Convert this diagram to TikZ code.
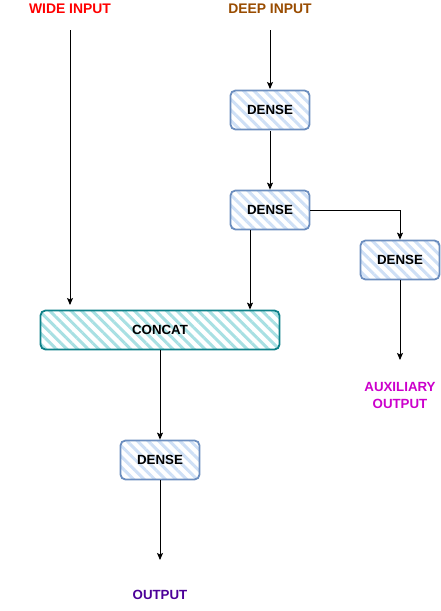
\documentclass[tikz,border=0pt]{standalone}
\usepackage{fontspec}
\setmainfont{Liberation Sans}
\usetikzlibrary{patterns.meta,arrows.meta}
\definecolor{blueb}{HTML}{6C8EBF}
\definecolor{bluef}{HTML}{CFE0F6}
\definecolor{tealb}{HTML}{0E8088}
\definecolor{tealf}{HTML}{A8E0E3}
\definecolor{deepc}{HTML}{994C00}
\definecolor{auxc}{HTML}{CC00CC}
\definecolor{outc}{HTML}{4C0099}
\definecolor{widec}{HTML}{FF0000}
\tikzset{
  box/.style={rectangle, rounded corners=5pt, draw=blueb, line width=1.8pt,
    preaction={fill=white},
    pattern={Lines[angle=-45,distance=7.5pt,line width=3pt]}, pattern color=bluef,
    minimum width=79pt, minimum height=39pt, inner sep=0pt,
    font=\fontsize{13.3}{16}\selectfont\bfseries},
  cbox/.style={box, draw=tealb, pattern color=tealf, minimum width=239pt},
  title/.style={inner sep=0pt, font=\fontsize{13.9}{16}\selectfont\bfseries},
  lbl/.style={inner sep=0pt, align=center, font=\fontsize{13.3}{17}\selectfont\bfseries},
  arr/.style={line width=0.9pt, -{Stealth[length=7pt,width=6pt,inset=1.5pt]}}
}
\begin{document}
\begin{tikzpicture}[x=1pt,y=-1pt]
\useasboundingbox[fill=white] (0,0) rectangle (441,611);
% texts
\node[title, text=widec] (wide) at (70,9) {WIDE INPUT};
\node[title, text=deepc] (deep) at (270,9) {DEEP INPUT};
\node[lbl, text=auxc] (aux) at (400,395) {AUXILIARY\\OUTPUT};
\node[lbl, text=outc] (out) at (160,595) {OUTPUT};
% boxes
\node[box] (d1) at (270,110) {DENSE};
\node[box] (d2) at (270,210) {DENSE};
\node[box] (d3) at (400,260) {DENSE};
\node[cbox] (cc) at (160,330) {CONCAT};
\node[box] (d4) at (160,460) {DENSE};
% free ends
\coordinate (ws) at (70,30);
\coordinate (we) at (70,305);
\coordinate (ds) at (270,30);
\coordinate (ae) at (400,360);
\coordinate (oe) at (160,560);
\coordinate (d2b) at (250,230);
% connectors
\draw[arr] (ws) -- (we);
\draw[arr] (ds) -- (d1.north);
\draw[arr] (d1.south) -- (d2.north);
\draw[arr] (d2b) -- (d2b |- cc.north);
\draw[arr] (d2.east) -| (d3.north);
\draw[arr] (d3.south) -- (ae);
\draw[arr] (cc.south) -- (d4.north);
\draw[arr] (d4.south) -- (oe);
\end{tikzpicture}
\end{document}
